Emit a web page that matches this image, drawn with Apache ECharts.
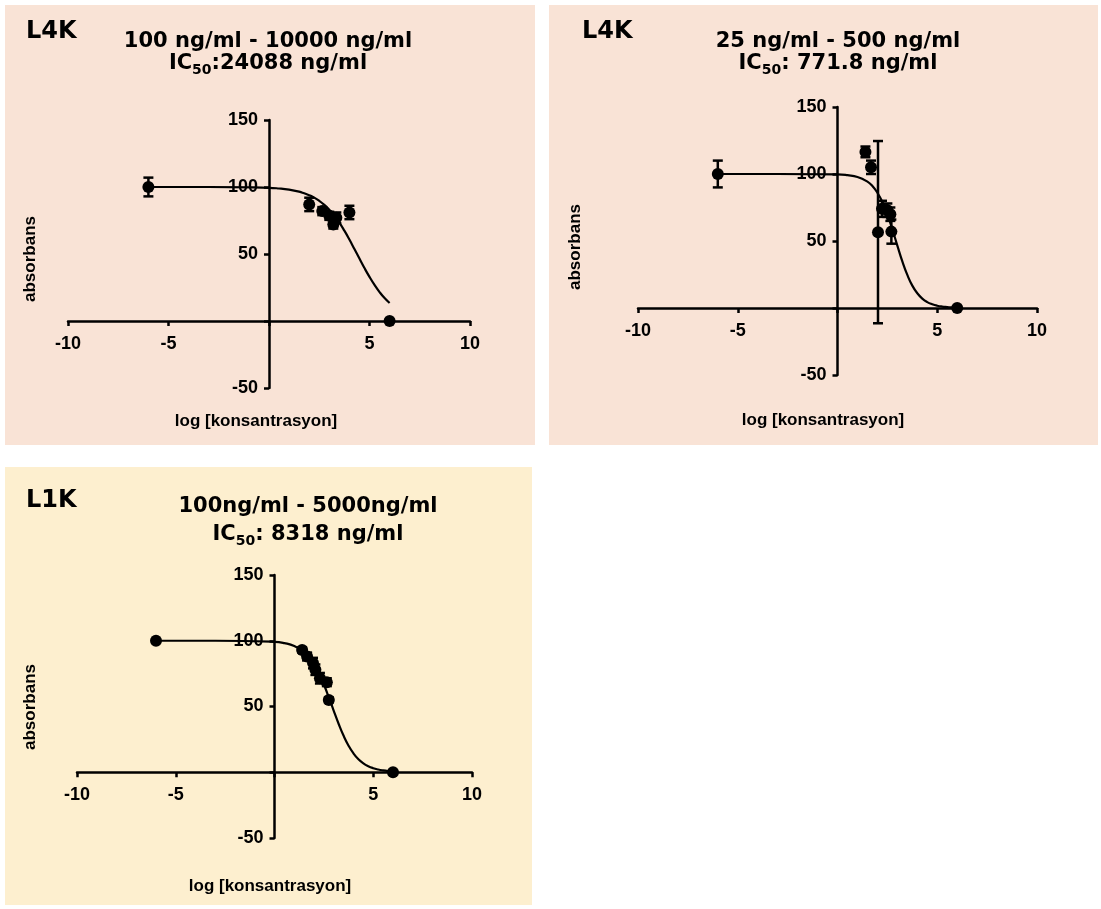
<!DOCTYPE html>
<html><head><meta charset="utf-8">
<script src="https://cdn.jsdelivr.net/npm/echarts@6/dist/echarts.min.js"></script>
<style>html,body{margin:0;padding:0;background:#fff}#c{width:1101px;height:909px}</style>
</head><body><div id="c"></div>
<script>
// ---- data ----
const xMin = -10, xMax = 10, xStep = 5;
const yMin = -50, yMax = 150, yStep = 50;
const panelCodes = ['L4K', 'L4K', 'L1K'];
const panelRanges = ['100 ng/ml - 10000 ng/ml', '25 ng/ml - 500 ng/ml', '100ng/ml - 5000ng/ml'];
const panelIC50 = [':24088 ng/ml', ': 771.8 ng/ml', ': 8318 ng/ml'];
const xName = 'log [konsantrasyon]';
const yName = 'absorbans';

const curveX  = [-6, -3, 0, 0.5, 1, 1.5, 1.75, 2, 2.25, 2.5, 2.75, 3, 3.25, 3.5, 3.75, 4, 4.25, 4.5, 4.75, 5, 5.25, 5.5, 5.75, 6];
const p1Curve = [100, 100, 99.4, 98.9, 98.0, 96.5, 95.3, 93.9, 92.1, 89.7, 86.7, 83.1, 78.6, 73.4, 67.4, 60.8, 53.7, 46.6, 39.5, 32.9, 26.9, 21.6, 17.1, 13.4];
const p2Curve = [100, 100, 99.7, 99.1, 97.8, 94.3, 91.0, 86.0, 79.1, 69.9, 58.7, 46.6, 34.8, 24.7, 16.7, 11.0, 7.0, 4.4, 2.8, 1.7, 1.05, 0.7, 0.4, 0.3];
const p3Curve = [100, 100, 99.2, 98.2, 96.0, 91.3, 87.4, 82.1, 75.2, 66.7, 57.0, 46.7, 36.7, 27.7, 20.2, 14.3, 9.9, 6.8, 4.6, 3.1, 2.1, 1.4, 0.9, 0.6];

// measured points: x, mean, error
const p1X   = [-6, 2.0, 2.65, 3.0, 3.2, 3.35, 4.0, 6.0];
const p1Y   = [100, 87, 82, 78.5, 72, 77, 81, 0];
const p1Err = [7, 5, 3, 3, 3, 4, 5, 0];

const p2X   = [-6, 1.4, 1.68, 2.03, 2.23, 2.5, 2.65, 2.7, 6.0];
const p2Y   = [100, 116.5, 105, 56.6, 74, 73, 70, 57, 0];
const p2Err = [10, 4, 5, 68, 6, 5, 5, 9, 0];

const p3X   = [-6, 1.4, 1.65, 1.95, 2.07, 2.3, 2.65, 2.75, 6.0];
const p3Y   = [100, 93, 88, 83, 78, 71.5, 68.5, 55, 0];
const p3Err = [0, 2, 3, 4, 4, 4, 3, 2, 0];

// ---- build ----
const chart = echarts.init(document.getElementById('c'));
const grids = [
  {left: 68, top: 120, width: 402, height: 268},
  {left: 638, top: 107, width: 399, height: 268},
  {left: 77, top: 575, width: 395, height: 263}
];
const lbl = {color: '#000', fontWeight: 'bold', fontSize: 18, fontFamily: 'Liberation Sans, Arial, sans-serif'};
const axisLine = {onZero: false, lineStyle: {color: '#000', width: 2.5}};
const axisTick = {show: true, length: 5, inside: false, lineStyle: {color: '#000', width: 2.5}};
const hideZero = v => (v === 0 ? '' : String(v));

// axes cross at the origin (GraphPad style)
const xAxes = grids.map((g, i) => ({
  type: 'value', gridIndex: i, min: xMin, max: xMax, interval: xStep, position: 'bottom',
  offset: -g.height * (0 - yMin) / (yMax - yMin),
  axisLine, axisTick, splitLine: {show: false},
  axisLabel: Object.assign({margin: 14, formatter: hideZero}, lbl)
}));
const yAxes = grids.map((g, i) => ({
  type: 'value', gridIndex: i, min: yMin, max: yMax, interval: yStep, position: 'left',
  offset: -g.width * (0 - xMin) / (xMax - xMin),
  axisLine, axisTick, splitLine: {show: false},
  axisLabel: Object.assign({margin: 11, formatter: hideZero}, lbl)
}));

function zip3(a, b, c) { return a.map((v, i) => [v, b[i], c[i]]); }
function zip2(a, b) { return a.map((v, i) => [v, b[i]]); }

function errRender(params, api) {
  const x = api.value(0), y = api.value(1), e = api.value(2);
  if (!e) return null;
  const t = api.coord([x, y + e]), b = api.coord([x, y - e]);
  const cw = 5;
  const st = {stroke: '#000', lineWidth: 2.5};
  return {type: 'group', children: [
    {type: 'line', shape: {x1: t[0], y1: t[1], x2: b[0], y2: b[1]}, style: st},
    {type: 'line', shape: {x1: t[0] - cw, y1: t[1], x2: t[0] + cw, y2: t[1]}, style: st},
    {type: 'line', shape: {x1: b[0] - cw, y1: b[1], x2: b[0] + cw, y2: b[1]}, style: st}
  ]};
}

const curves = [p1Curve, p2Curve, p3Curve];
const pts = [zip3(p1X, p1Y, p1Err), zip3(p2X, p2Y, p2Err), zip3(p3X, p3Y, p3Err)];
const series = [];
for (let i = 0; i < 3; i++) {
  series.push({
    type: 'line', xAxisIndex: i, yAxisIndex: i, data: zip2(curveX, curves[i]),
    smooth: 0.5, showSymbol: false, symbol: 'none',
    lineStyle: {color: '#000', width: 2.2}, z: 3, silent: true
  });
  series.push({
    type: 'custom', xAxisIndex: i, yAxisIndex: i, data: pts[i],
    encode: {x: 0, y: 1}, renderItem: errRender, z: 4, silent: true, clip: false
  });
  series.push({
    type: 'scatter', xAxisIndex: i, yAxisIndex: i, data: pts[i].map(p => [p[0], p[1]]),
    symbol: 'circle', symbolSize: 12, itemStyle: {color: '#000', opacity: 1}, z: 5, silent: true
  });
}

const titleFont = 'DejaVu Sans, sans-serif';
function titleBlock(cx, y1, y2, codeX, codeY, i) {
  return [
    {type: 'text', x: codeX, y: codeY, z: 10, style: {text: panelCodes[i], font: 'bold 24px ' + titleFont, fill: '#000', textAlign: 'left', textVerticalAlign: 'middle'}},
    {type: 'text', x: cx, y: y1, z: 10, style: {text: panelRanges[i], font: 'bold 21px ' + titleFont, fill: '#000', textAlign: 'center', textVerticalAlign: 'middle'}},
    {type: 'text', x: cx, y: y2, z: 10, style: {
      text: '{a|IC}{s|50}{a|' + panelIC50[i] + '}',
      textAlign: 'center', textVerticalAlign: 'middle',
      rich: {
        a: {fontFamily: titleFont, fontWeight: 'bold', fontSize: 21, lineHeight: 24, fill: '#000', color: '#000'},
        s: {fontFamily: titleFont, fontWeight: 'bold', fontSize: 14, lineHeight: 16, padding: [12, 0, 0, 0], fill: '#000', color: '#000'}
      }
    }}
  ];
}
function axisNames(yx, yy, xx, xy) {
  return [
    {type: 'text', x: yx, y: yy, rotation: Math.PI / 2, z: 10, style: {text: yName, font: 'bold 17px Liberation Sans, Arial, sans-serif', fill: '#000', textAlign: 'center', textVerticalAlign: 'middle'}},
    {type: 'text', x: xx, y: xy, z: 10, style: {text: xName, font: 'bold 17px Liberation Sans, Arial, sans-serif', fill: '#000', textAlign: 'center', textVerticalAlign: 'middle'}}
  ];
}

const graphic = [
  {type: 'rect', shape: {x: 5, y: 5, width: 530, height: 440}, style: {fill: '#f9e3d6'}, z: -10, silent: true},
  {type: 'rect', shape: {x: 549, y: 5, width: 549, height: 440}, style: {fill: '#f9e3d6'}, z: -10, silent: true},
  {type: 'rect', shape: {x: 5, y: 467, width: 527, height: 438}, style: {fill: '#fdefcf'}, z: -10, silent: true}
].concat(
  titleBlock(268, 42, 64, 26, 32, 0),
  titleBlock(838, 42, 64, 582, 32, 1),
  titleBlock(308, 507, 535, 26, 501, 2),
  axisNames(30, 259, 256, 421),
  axisNames(575, 247, 823, 420),
  axisNames(30, 707, 270, 886)
);

chart.setOption({
  animation: false,
  backgroundColor: '#ffffff',
  grid: grids,
  xAxis: xAxes,
  yAxis: yAxes,
  series,
  graphic
});
</script>
</body></html>
